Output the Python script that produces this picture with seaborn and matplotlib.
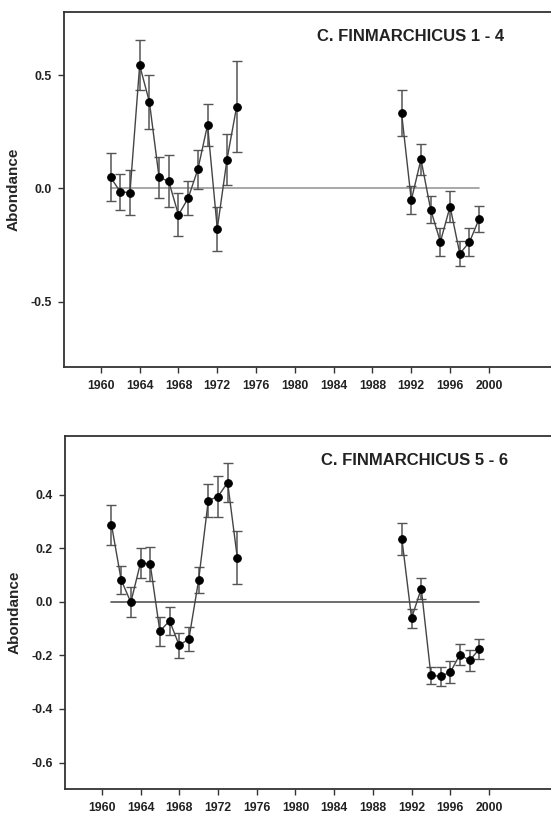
import numpy as np
import pandas as pd
import matplotlib
matplotlib.use("Agg")
import matplotlib.pyplot as plt
import seaborn as sns

years = [1961, 1962, 1963, 1964, 1965, 1966, 1967, 1968, 1969, 1970, 1971, 1972, 1973, 1974,
         1991, 1992, 1993, 1994, 1995, 1996, 1997, 1998, 1999]
segment = [0] * 14 + [1] * 9

c14_mean = [0.049, -0.015, -0.019, 0.543, 0.382, 0.049, 0.031, -0.117, -0.043, 0.084, 0.280, -0.178, 0.127, 0.361,
            0.332, -0.052, 0.128, -0.094, -0.236, -0.080, -0.288, -0.237, -0.134]
c14_err = [0.105, 0.080, 0.100, 0.110, 0.120, 0.090, 0.115, 0.095, 0.074, 0.087, 0.094, 0.098, 0.113, 0.200,
           0.100, 0.063, 0.068, 0.060, 0.061, 0.067, 0.056, 0.063, 0.057]

c56_mean = [0.288, 0.082, -0.002, 0.145, 0.141, -0.110, -0.071, -0.163, -0.138, 0.080, 0.378, 0.393, 0.445, 0.164,
            0.234, -0.061, 0.049, -0.275, -0.278, -0.263, -0.197, -0.219, -0.176]
c56_err = [0.075, 0.052, 0.056, 0.056, 0.064, 0.054, 0.053, 0.048, 0.044, 0.049, 0.060, 0.075, 0.072, 0.099,
           0.059, 0.035, 0.040, 0.032, 0.036, 0.041, 0.040, 0.039, 0.038]

titles = ["C. FINMARCHICUS 1 - 4", "C. FINMARCHICUS 5 - 6"]
xticks = list(range(1960, 2001, 4))
yticks_top = [-0.5, 0.0, 0.5]
yticks_bot = [-0.6, -0.4, -0.2, 0.0, 0.2, 0.4]

sns.set_theme(style="ticks")
plt.rcParams['font.family'] = ['Liberation Sans', 'DejaVu Sans']

fig = plt.figure(figsize=(5.51, 8.15), dpi=100)
ax1 = fig.add_axes([64 / 551, 1 - 367 / 815, 1.0105 - 64 / 551, (367 - 12) / 815])
ax2 = fig.add_axes([65 / 551, 1 - 789.3 / 815, 1.0105 - 65 / 551, (789.3 - 435.7) / 815])

panels = [
    (ax1, c14_mean, c14_err, titles[0], yticks_top, (-0.788, 0.778), "#9a9a9a", 0.893, 0.93),
    (ax2, c56_mean, c56_err, titles[1], yticks_bot, (-0.70, 0.62), "#555555", 0.901, 0.931),
]

for ax, mean, err, title, yt, ylim, zcol, tx, ty in panels:
    df = pd.DataFrame({"year": years, "val": mean, "err": err, "seg": segment})
    ax.plot([years[0], years[-1]], [0, 0], color=zcol, lw=1.2, zorder=1)
    ax.errorbar(df["year"], df["val"], yerr=df["err"], fmt="none", ecolor="#555555",
                elinewidth=1.1, capsize=3.3, capthick=1.0, zorder=2)
    sns.lineplot(data=df, x="year", y="val", units="seg", estimator=None, ax=ax,
                 color="#444444", lw=1.0, marker="o", markersize=5.5,
                 markerfacecolor="black", markeredgecolor="black", zorder=3)
    ax.set_xlim(1956.2, 2007.0)
    ax.set_ylim(*ylim)
    ax.set_xticks(xticks)
    ax.set_xticklabels([str(x) for x in xticks])
    ax.set_yticks(yt)
    ax.set_yticklabels([f"{v:.1f}" for v in yt])
    ax.set_xlabel("")
    ax.set_ylabel("Abondance", fontsize=11, fontweight="bold", labelpad=7)
    ax.tick_params(axis="both", direction="out", length=4, width=1, color="#333333",
                   labelsize=8.8, labelcolor="#222222", pad=5)
    for lab in ax.get_xticklabels() + ax.get_yticklabels():
        lab.set_fontweight("bold")
    for s in ax.spines.values():
        s.set_color("#333333")
        s.set_linewidth(1.3)
    ax.text(tx, ty, title, transform=ax.transAxes, ha="right", va="center",
            fontsize=12, fontweight="bold", color="#222222")

fig.savefig("out.png", dpi=100)
